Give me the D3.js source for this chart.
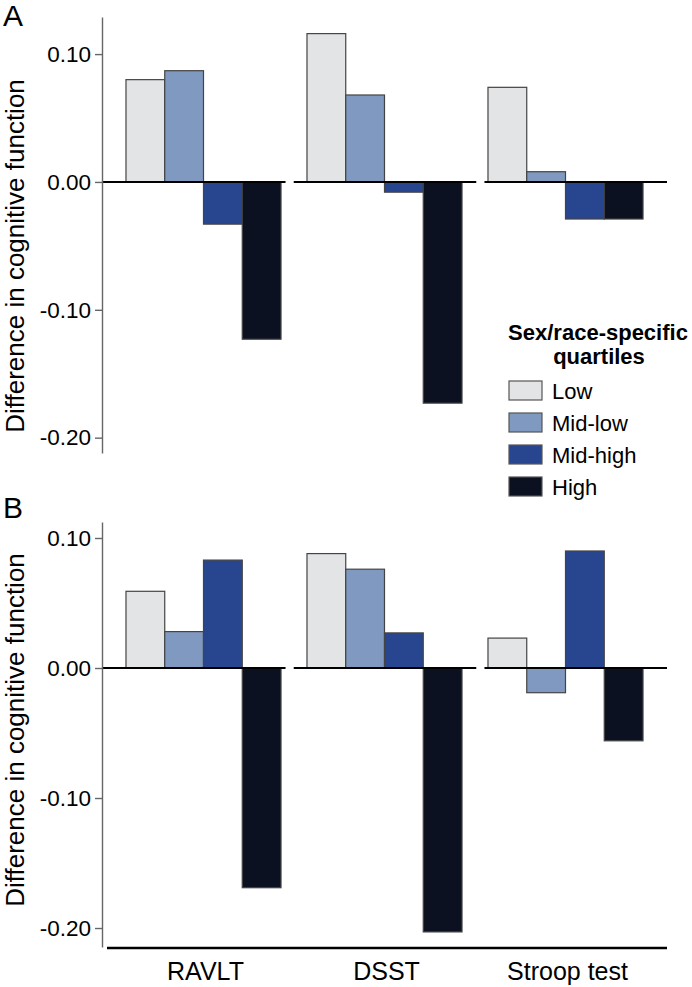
<!DOCTYPE html>
<html>
<head>
<meta charset="utf-8">
<script src="https://cdn.jsdelivr.net/npm/d3@7"></script>
<style>
  body { margin: 0; background: #fff; }
  svg { display: block; font-family: "Liberation Sans", Arial, sans-serif; }
  .axis path, .axis line { stroke: #666; stroke-width: 1.4; }
  .axis text { font-size: 22.5px; fill: #000; }
</style>
</head>
<body>
<script>
const tests = ["RAVLT", "DSST", "Stroop test"],
    quartiles = ["Low", "Mid-low", "Mid-high", "High"],
    colors = ["#e3e4e6", "#8099c0", "#284690", "#0b1120"],
    yTicks = [0.10, 0.00, -0.10, -0.20];

// panel A, one array per quartile, in the order of tests
const aLow = [0.080, 0.116, 0.074],
    aMidLow = [0.087, 0.068, 0.008],
    aMidHigh = [-0.033, -0.008, -0.029],
    aHigh = [-0.123, -0.173, -0.029];

// panel B
const bLow = [0.059, 0.088, 0.023],
    bMidLow = [0.028, 0.076, -0.019],
    bMidHigh = [0.083, 0.027, 0.090],
    bHigh = [-0.169, -0.203, -0.056];

const width = 692, height = 987;

const svg = d3.select("body").append("svg")
    .attr("width", width)
    .attr("height", height);

const xGroup = d3.scaleBand().domain(tests).range([113, 656]),
    xSub = d3.scaleBand().domain(quartiles).range([0, xGroup.bandwidth()]).paddingOuter(0.335),
    xLine = d3.scaleBand().domain(tests).range([103, 667]).paddingInner(0.043);

function drawPanel(letter, series, yDomain, yRange, titleY, letterY) {
    const y = d3.scaleLinear().domain(yDomain).range(yRange);
    const g = svg.append("g");

    const rows = [];
    tests.forEach((t, i) => {
        quartiles.forEach((q, j) => {
            rows.push({test: t, q: q, j: j, v: series[j][i]});
        });
    });

    g.selectAll("rect.bar")
        .data(rows)
        .join("rect")
        .attr("class", "bar")
        .attr("x", d => xGroup(d.test) + xSub(d.q))
        .attr("width", xSub.bandwidth())
        .attr("y", d => y(Math.max(0, d.v)))
        .attr("height", d => Math.abs(y(d.v) - y(0)))
        .attr("fill", d => colors[d.j])
        .attr("stroke", "#444")
        .attr("stroke-width", 1.2);

    // zero line, broken between tests
    g.selectAll("line.zero")
        .data(tests)
        .join("line")
        .attr("class", "zero")
        .attr("x1", d => xLine(d))
        .attr("x2", d => xLine(d) + xLine.bandwidth())
        .attr("y1", y(0))
        .attr("y2", y(0))
        .attr("stroke", "#000")
        .attr("stroke-width", 2);

    g.append("g")
        .attr("class", "axis")
        .attr("transform", "translate(102,0)")
        .call(d3.axisLeft(y)
            .tickValues(yTicks)
            .tickFormat(d => d.toFixed(2))
            .tickSize(7)
            .tickSizeOuter(0)
            .tickPadding(4));

    g.append("text")
        .attr("transform", "translate(24," + titleY + ") rotate(-90)")
        .attr("text-anchor", "middle")
        .style("font-size", "26px")
        .text("Difference in cognitive function");

    g.append("text")
        .attr("x", 3)
        .attr("y", letterY)
        .style("font-size", "30px")
        .text(letter);

    return y;
}

drawPanel("A", [aLow, aMidLow, aMidHigh, aHigh], [-0.212, 0.129], [453, 17], 256, 26);
drawPanel("B", [bLow, bMidLow, bMidHigh, bHigh], [-0.2146, 0.1123], [947, 522], 730, 518);

// x axis of panel B
svg.append("line")
    .attr("x1", 107).attr("x2", 667)
    .attr("y1", 948).attr("y2", 948)
    .attr("stroke", "#000")
    .attr("stroke-width", 2.5);

svg.selectAll("text.xlab")
    .data(tests)
    .join("text")
    .attr("class", "xlab")
    .attr("x", d => xGroup(d) + xGroup.bandwidth() / 2 + 2)
    .attr("y", 980)
    .attr("text-anchor", "middle")
    .style("font-size", "25px")
    .text(d => d);

// legend
const legend = svg.append("g");

legend.append("text")
    .attr("x", 598).attr("y", 340)
    .attr("text-anchor", "middle")
    .style("font-size", "22px")
    .style("font-weight", "bold")
    .text("Sex/race-specific");

legend.append("text")
    .attr("x", 599).attr("y", 364)
    .attr("text-anchor", "middle")
    .style("font-size", "22px")
    .style("font-weight", "bold")
    .text("quartiles");

const item = legend.selectAll("g.item")
    .data(quartiles)
    .join("g")
    .attr("class", "item")
    .attr("transform", (d, i) => "translate(509," + (381 + i * 32) + ")");

item.append("rect")
    .attr("width", 33)
    .attr("height", 19)
    .attr("fill", (d, i) => colors[i])
    .attr("stroke", "#555")
    .attr("stroke-width", 1.2);

item.append("text")
    .attr("x", 43)
    .attr("y", 18)
    .style("font-size", "22px")
    .text(d => d);
</script>
</body>
</html>
